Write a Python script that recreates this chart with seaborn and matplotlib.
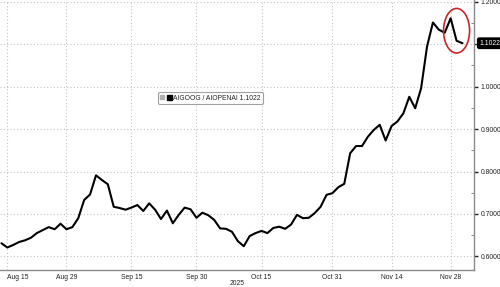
import numpy as np
import pandas as pd
import matplotlib
matplotlib.use("Agg")
import matplotlib.pyplot as plt
import seaborn as sns
from matplotlib.patches import Ellipse
from matplotlib.lines import Line2D
from matplotlib.legend_handler import HandlerTuple
from matplotlib.ticker import FixedLocator, FuncFormatter

# ---- data ----
dates = pd.bdate_range("2025-08-14", "2025-12-02")  # weekday axis (79 points)
ratio = [
    0.631, 0.621, 0.627, 0.634, 0.638, 0.644, 0.655, 0.662, 0.669, 0.664,
    0.677, 0.664, 0.669, 0.690, 0.733, 0.746, 0.791, 0.780, 0.770, 0.717,
    0.714, 0.710, 0.715, 0.721, 0.707, 0.725, 0.710, 0.688, 0.708, 0.678,
    0.698, 0.715, 0.711, 0.691, 0.703, 0.697, 0.686, 0.666, 0.665, 0.658,
    0.636, 0.624, 0.648, 0.655, 0.660, 0.655, 0.667, 0.670, 0.665, 0.675,
    0.698, 0.690, 0.691, 0.702, 0.717, 0.745, 0.749, 0.763, 0.771, 0.843,
    0.860, 0.860, 0.882, 0.898, 0.910, 0.873, 0.907, 0.918, 0.937, 0.976,
    0.949, 0.996, 1.094, 1.151, 1.134, 1.127, 1.161, 1.108, 1.1022,
]
tick_dates = ["2025-08-15", "2025-08-29", "2025-09-15", "2025-09-30",
              "2025-10-15", "2025-10-31", "2025-11-14", "2025-11-28"]
tick_labels = ["Aug 15", "Aug 29", "Sep 15", "Sep 30",
               "Oct 15", "Oct 31", "Nov 14", "Nov 28"]
y_ticks = [0.6, 0.7, 0.8, 0.9, 1.0, 1.1, 1.2]
series_label = "AIGOOG / AIOPENAI"
year_label = "2025"

df = pd.DataFrame({"date": dates, "ratio": ratio})
df["pos"] = np.arange(len(df))

# ---- style ----
sns.set_theme(style="white")
plt.rcParams["font.family"] = ["Liberation Sans", "DejaVu Sans"]
FS = 4.9

fig = plt.figure(figsize=(5.0, 2.87), dpi=100)
ax = fig.add_axes([0, 17 / 287, 474.3 / 500, 270 / 287])

sns.lineplot(data=df, x="pos", y="ratio", color="black", lw=1.5, ax=ax,
             legend=False, zorder=3)

ax.set_xlim(-0.24, 80.0)
ax.set_ylim(0.568, 1.204)
ax.set_xlabel("")
ax.set_ylabel("")

# x ticks
date_index = {d.strftime("%Y-%m-%d"): i for i, d in enumerate(df["date"])}
xt = [date_index[d] for d in tick_dates]
ax.set_xticks(xt)
ax.set_xticklabels(tick_labels)
ax.xaxis.set_minor_locator(FixedLocator([(a + b) / 2 for a, b in zip(xt[:-1], xt[1:])]))
ax.tick_params(axis="x", which="major", labelsize=FS, pad=1.2, length=3,
               direction="inout", color="#555555", width=0.7, labelcolor="#222222")
ax.tick_params(axis="x", which="minor", length=2, direction="in",
               color="#777777", width=0.6)
labs = ax.get_xticklabels()
labs[0].set_horizontalalignment("left")

# y ticks on the right (the last-value tag covers the label nearest to it)
last = ratio[-1]
ax.yaxis.tick_right()
ax.set_yticks(y_ticks)
ax.yaxis.set_major_formatter(
    FuncFormatter(lambda v, p: "" if abs(v - last) < 0.02 else f"{v:.4f}"))
ax.yaxis.set_minor_locator(FixedLocator([v + 0.05 for v in y_ticks[:-1]]))
ax.tick_params(axis="y", which="major", labelsize=FS, pad=1.5, length=3,
               direction="out", color="#222222", width=1.0, labelcolor="#222222")
ax.tick_params(axis="y", which="minor", length=2, direction="in",
               color="#777777", width=0.6, right=True, left=False)

# grid
ax.grid(True, which="major", axis="both", color="#c4c4c4", linestyle=(0, (1, 2)),
        linewidth=0.8)
ax.set_axisbelow(True)

# spines
for s in ["left", "top"]:
    ax.spines[s].set_visible(False)
for s in ["right", "bottom"]:
    ax.spines[s].set_color("#8a8a8a")
    ax.spines[s].set_linewidth(1.0)

# legend
h1 = Line2D([], [], marker="s", color="#b0b0b0", ls="none", markersize=2.4)
h2 = Line2D([], [], marker="s", color="black", ls="none", markersize=3.6)
leg = ax.legend([(h1, h2)], [f"{series_label} {last:.4f}"],
                handler_map={tuple: HandlerTuple(ndivide=None, pad=0.4)},
                loc="center", bbox_to_anchor=(0.444, 0.637), fontsize=FS,
                frameon=True, fancybox=True, edgecolor="#8a8a8a",
                handlelength=1.4, handletextpad=0.4, borderpad=0.35,
                borderaxespad=0)
leg.get_frame().set_linewidth(0.8)
for t in leg.get_texts():
    t.set_color("#222222")

# last value label
ax.annotate(f"{last:.4f}", xy=(1, last),
            xycoords=("axes fraction", "data"), xytext=(3.6, 0),
            textcoords="offset points", ha="left", va="center",
            color="white", fontsize=FS,
            bbox=dict(boxstyle="round,pad=0.25", fc="black", ec="black"),
            annotation_clip=False, zorder=10)

# red circle around the recent peak
n = len(ratio)
cx = n - 2
cy = (max(ratio[-6:]) + last) / 2
ax.add_patch(Ellipse((cx, cy), width=4.4, height=0.105, fill=False,
                     edgecolor="#c62828", linewidth=1.2, zorder=4))

# year label
fig.text(237.5 / 500, 1 - 283.3 / 287, year_label, ha="center", va="center",
         fontsize=FS, color="#222222")

fig.savefig("out.png", dpi=100, facecolor="white")
